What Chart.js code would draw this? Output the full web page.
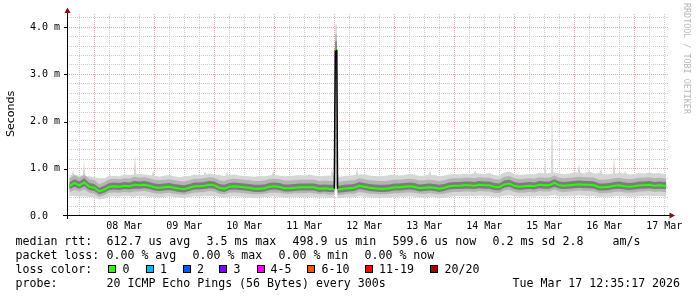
<!DOCTYPE html>
<html><head><meta charset="utf-8">
<script src="https://cdn.jsdelivr.net/npm/chart.js@4.4.1/dist/chart.umd.min.js"></script>
<style>
html,body{margin:0;padding:0;background:#fff;width:697px;height:297px;overflow:hidden;}
#wrap{position:relative;width:697px;height:297px;}
canvas{position:absolute;left:0;top:0;}
.t{position:absolute;font-family:"DejaVu Sans Mono",monospace;font-size:11.6px;line-height:14px;color:#000;white-space:pre;}
.box{position:absolute;width:6px;height:6px;border:1px solid #000;}
#ytitle{position:absolute;left:5px;top:91px;height:46px;width:12px;line-height:12px;font-family:"DejaVu Sans",sans-serif;font-size:11px;color:#000;writing-mode:vertical-rl;transform:rotate(180deg);white-space:nowrap;}
#wm{position:absolute;left:682px;top:3px;width:10px;line-height:10px;font-family:"DejaVu Sans Mono",monospace;font-size:8.4px;color:#b8b8b8;writing-mode:vertical-rl;white-space:nowrap;}
</style></head>
<body><div id="wrap"><canvas id="c" width="697" height="297"></canvas>
<div id="ytitle">Seconds</div>
<div id="wm">RRDTOOL / TOBI OETIKER</div>
<div id="legend"></div>
</div>
<script>
// time in hours relative to 08 Mar 00:00
const hours = [
 -10,-8,-6,-4,-2,0,2,4,6,8,
 10,12,14,16,18,20,22,24,26,28,
 30,32,34,36,38,40,42,44,46,48,
 50,52,54,56,58,60,62,64,66,68,
 70,72,74,76,78,80,82,84,86,88,
 90,92,94,96,
 96.4,97.0,97.3,
 98,100,102,104,106,108,
 110,112,114,116,118,120,122,124,126,128,
 130,132,134,136,138,140,142,144,146,148,
 150,152,154,156,158,160,162,164,166,168,
 170,172,174,176,178,180,182,184,186,188,
 190,192,194,196,198,200,202,204,206,208,
 210,212,214,216,218,220,222,224,226,228,
 228.8];
// median rtt (ms)
const median = [
 0.63,0.70,0.65,0.71,0.62,0.60,0.52,0.56,0.62,0.63,
 0.62,0.64,0.63,0.66,0.65,0.66,0.64,0.61,0.60,0.61,
 0.62,0.60,0.58,0.57,0.60,0.63,0.63,0.64,0.66,0.65,
 0.60,0.58,0.62,0.63,0.62,0.61,0.60,0.58,0.58,0.59,
 0.62,0.63,0.62,0.59,0.59,0.60,0.61,0.61,0.61,0.61,
 0.58,0.59,0.58,0.58,
 3.52,3.52,0.57,
 0.56,0.58,0.59,0.60,0.64,0.62,
 0.60,0.59,0.58,0.58,0.59,0.61,0.61,0.62,0.63,0.62,
 0.59,0.60,0.61,0.60,0.58,0.60,0.63,0.64,0.64,0.65,
 0.65,0.64,0.66,0.65,0.65,0.62,0.61,0.67,0.69,0.64,
 0.62,0.63,0.64,0.63,0.66,0.65,0.65,0.70,0.65,0.64,
 0.65,0.66,0.67,0.66,0.66,0.65,0.61,0.61,0.62,0.64,
 0.65,0.63,0.62,0.63,0.65,0.65,0.66,0.64,0.65,0.64,
 0.64];
// smoke: minimum ping
const pingMin = [
 0.42,0.43,0.41,0.42,0.40,0.39,0.35,0.37,0.41,0.42,
 0.41,0.43,0.42,0.41,0.43,0.42,0.41,0.40,0.39,0.41,
 0.42,0.40,0.39,0.38,0.40,0.42,0.41,0.43,0.42,0.43,
 0.40,0.39,0.41,0.42,0.41,0.40,0.39,0.38,0.39,0.40,
 0.41,0.42,0.41,0.39,0.39,0.40,0.41,0.40,0.41,0.40,
 0.39,0.40,0.38,0.39,
 0.62,0.62,0.39,
 0.37,0.39,0.40,0.40,0.42,0.41,
 0.40,0.39,0.38,0.39,0.39,0.40,0.41,0.41,0.42,0.41,
 0.39,0.40,0.41,0.40,0.38,0.39,0.41,0.42,0.43,0.42,
 0.43,0.42,0.43,0.43,0.42,0.41,0.40,0.43,0.44,0.42,
 0.41,0.42,0.42,0.41,0.43,0.42,0.43,0.44,0.42,0.42,
 0.43,0.43,0.44,0.43,0.42,0.43,0.40,0.41,0.41,0.42,
 0.43,0.42,0.41,0.41,0.42,0.43,0.43,0.42,0.43,0.42,
 0.42];
// smoke: 10th percentile
const pingP10 = [
 0.50,0.55,0.52,0.56,0.49,0.47,0.41,0.44,0.49,0.50,
 0.49,0.51,0.50,0.52,0.52,0.53,0.51,0.48,0.47,0.48,
 0.49,0.47,0.46,0.45,0.47,0.50,0.50,0.51,0.53,0.52,
 0.47,0.46,0.49,0.50,0.49,0.48,0.47,0.46,0.46,0.47,
 0.49,0.50,0.49,0.47,0.47,0.48,0.48,0.48,0.49,0.48,
 0.46,0.47,0.45,0.46,
 3.00,3.00,0.45,
 0.44,0.46,0.47,0.47,0.51,0.49,
 0.47,0.47,0.46,0.46,0.47,0.48,0.48,0.49,0.50,0.49,
 0.47,0.47,0.48,0.47,0.46,0.47,0.50,0.51,0.51,0.52,
 0.52,0.51,0.53,0.52,0.52,0.49,0.48,0.54,0.55,0.51,
 0.49,0.50,0.51,0.50,0.53,0.52,0.52,0.56,0.52,0.51,
 0.52,0.53,0.54,0.53,0.53,0.52,0.48,0.48,0.49,0.51,
 0.52,0.50,0.49,0.50,0.52,0.52,0.53,0.51,0.52,0.51,
 0.51];
// smoke: lower quartile
const pingLowQ = [
 0.56,0.62,0.58,0.63,0.55,0.53,0.46,0.49,0.55,0.56,
 0.55,0.57,0.56,0.58,0.58,0.59,0.57,0.54,0.53,0.54,
 0.55,0.53,0.51,0.50,0.53,0.56,0.56,0.57,0.59,0.58,
 0.53,0.51,0.55,0.56,0.55,0.54,0.53,0.51,0.51,0.52,
 0.55,0.56,0.55,0.52,0.52,0.53,0.54,0.54,0.54,0.54,
 0.51,0.52,0.51,0.51,
 3.30,3.30,0.50,
 0.49,0.51,0.52,0.53,0.57,0.55,
 0.53,0.52,0.51,0.51,0.52,0.54,0.54,0.55,0.56,0.55,
 0.52,0.53,0.54,0.53,0.51,0.53,0.56,0.57,0.57,0.58,
 0.58,0.57,0.59,0.58,0.58,0.55,0.54,0.60,0.62,0.57,
 0.55,0.56,0.57,0.56,0.59,0.58,0.58,0.62,0.58,0.57,
 0.58,0.59,0.60,0.59,0.59,0.58,0.54,0.54,0.55,0.57,
 0.58,0.56,0.55,0.56,0.58,0.58,0.59,0.57,0.58,0.57,
 0.57];
// smoke: upper quartile
const pingHighQ = [
 0.71,0.78,0.73,0.80,0.70,0.68,0.60,0.64,0.70,0.71,
 0.70,0.72,0.71,0.74,0.73,0.74,0.72,0.69,0.68,0.69,
 0.70,0.68,0.66,0.65,0.68,0.71,0.71,0.72,0.74,0.73,
 0.68,0.66,0.70,0.71,0.70,0.69,0.68,0.66,0.66,0.67,
 0.70,0.71,0.70,0.67,0.67,0.68,0.69,0.69,0.69,0.69,
 0.66,0.67,0.66,0.66,
 3.70,3.70,0.65,
 0.64,0.66,0.67,0.68,0.72,0.70,
 0.68,0.67,0.66,0.66,0.67,0.69,0.69,0.70,0.71,0.70,
 0.67,0.68,0.69,0.68,0.66,0.68,0.71,0.72,0.72,0.73,
 0.73,0.72,0.74,0.73,0.73,0.70,0.69,0.75,0.77,0.72,
 0.70,0.71,0.72,0.71,0.74,0.73,0.73,0.78,0.73,0.72,
 0.73,0.74,0.75,0.74,0.74,0.73,0.69,0.69,0.70,0.72,
 0.73,0.71,0.70,0.71,0.73,0.73,0.74,0.72,0.73,0.72,
 0.72];
// smoke: 90th percentile
const pingP90 = [
 0.79,0.87,0.81,0.88,0.78,0.76,0.68,0.72,0.78,0.79,
 0.78,0.80,0.79,0.83,0.81,0.82,0.80,0.77,0.76,0.77,
 0.78,0.76,0.74,0.73,0.76,0.79,0.79,0.80,0.82,0.81,
 0.76,0.74,0.78,0.79,0.78,0.77,0.76,0.74,0.74,0.75,
 0.78,0.79,0.78,0.75,0.75,0.76,0.77,0.77,0.77,0.77,
 0.74,0.75,0.74,0.74,
 3.85,3.85,0.73,
 0.72,0.74,0.75,0.76,0.80,0.78,
 0.76,0.75,0.74,0.74,0.75,0.77,0.77,0.78,0.79,0.78,
 0.75,0.76,0.77,0.76,0.74,0.76,0.79,0.80,0.80,0.81,
 0.81,0.80,0.82,0.81,0.81,0.78,0.77,0.83,0.85,0.80,
 0.78,0.79,0.80,0.79,0.82,0.81,0.81,0.86,0.81,0.80,
 0.81,0.82,0.83,0.82,0.82,0.81,0.77,0.77,0.78,0.80,
 0.81,0.79,0.78,0.79,0.81,0.81,0.82,0.80,0.81,0.80,
 0.80];
// smoke: maximum ping (own time points, so single-ping spikes stay thin)
const maxHours = [
 -10,-9.0,-8.5,-8.0,-6,-4.6,-4.1,-3.6,-2,0,2,4,6,8,10,12,14,15.8,16.3,16.8,18,20,22,23.0,23.5,24.0,
 26,28,30,32,34,36,38,40,42,43.8,44.3,44.8,46,48,50,52,52.6,53.1,53.6,54,56,58,60,62,64,66,68,70,
 71.0,71.5,72.0,74,76,78,80,82,84,86,88,90,92,94,94.6,95.1,95.6,96,96.4,97.0,97.3,98,100,102,104,
 104.6,105.1,105.6,106,108,110,112,114,116,118,120,122,124,126,128,130,132,133.8,134.3,134.8,136,
 138,140,142,144,146,148,150,151.8,152.3,152.8,154,156,158,160,162,164,166,168,170,172,174,176,178,
 180,180.3,180.8,182,182.6,183.1,183.6,184,186,188,190,192,193.4,193.9,194.4,196,198,200,202,202.7,
 203.2,204,206,207.4,207.9,208.4,210,212,212.3,212.8,214,216,218,220,222,224,226,228,228.8];
const pingMax = [
 0.88,0.87,0.97,0.87,0.86,0.86,1.18,0.85,0.84,0.82,0.80,0.80,0.86,0.85,0.84,0.88,0.87,0.88,1.29,0.88,0.89,0.88,0.87,0.86,0.97,0.86,
 0.83,0.86,0.87,0.84,0.82,0.84,0.85,0.88,0.87,0.87,0.95,0.88,0.90,0.88,0.87,0.85,0.86,0.97,0.86,0.87,0.88,0.86,0.85,0.84,0.83,0.85,0.84,0.86,
 0.87,0.97,0.87,0.86,0.84,0.85,0.86,0.87,0.86,0.88,0.86,0.84,0.85,0.86,0.86,1.04,0.86,0.86,4.05,4.05,0.85,0.83,0.85,0.86,0.87,
 0.88,1.00,0.88,0.88,0.88,0.86,0.85,0.84,0.85,0.87,0.88,0.86,0.87,0.89,0.88,0.85,0.86,0.88,0.97,0.87,0.87,
 0.84,0.86,0.88,0.89,0.88,0.90,0.89,0.90,0.97,0.90,0.90,0.89,0.91,0.87,0.86,0.92,0.94,0.89,0.87,0.88,0.89,0.88,0.92,
 0.90,1.22,0.90,0.91,0.92,2.42,0.92,0.92,0.90,0.89,0.90,0.92,0.92,1.12,0.92,0.90,0.95,0.90,0.91,1.00,
 0.90,0.88,0.89,0.90,1.26,0.90,0.91,0.90,0.97,0.90,0.88,0.89,0.91,0.90,0.92,0.90,0.91,0.89,0.89];

const dayLabels = ['08 Mar','09 Mar','10 Mar','11 Mar','12 Mar','13 Mar','14 Mar','15 Mar','16 Mar','17 Mar'];
const yTickLabels = ['0.0  ','1.0 m','2.0 m','3.0 m','4.0 m'];
const lossLabels = ['0','1','2','3','4-5','6-10','11-19','20/20'];
const lossColors = ['#26ff00','#00b8ff','#0059ff','#7e00ff','#ff00ff','#ff5500','#ff0000','#a10000'];
const lossBoxX = [108,145.5,182.5,219,256.5,307,365,430];
const lossTextX = [123,160.5,197.5,234,271,322,379.5,445];

const statRows = [
 [[16,'median rtt:'],[107,'612.7 us avg'],[207,'3.5 ms max'],[293,'498.9 us min'],[393,'599.6 us now'],[493,'0.2 ms sd'],[563,'2.8'],[613,'am/s']],
 [[16,'packet loss:'],[107,'0.00 % avg'],[193,'0.00 % max'],[279,'0.00 % min'],[365,'0.00 % now']],
 [[16,'loss color:']],
 [[16,'probe:'],[107,'20 ICMP Echo Pings (56 Bytes) every 300s'],[513,'Tue Mar 17 12:35:17 2026']]
];
const rowTops = [234, 248, 261.7, 275.7];

const leg = document.getElementById('legend');
statRows.forEach((row, r) => row.forEach(([x, s]) => {
  const d = document.createElement('div'); d.className = 't';
  d.style.left = (x - 0.5) + 'px'; d.style.top = rowTops[r] + 'px'; d.textContent = s; leg.appendChild(d);
}));
lossLabels.forEach((lab, i) => {
  const b = document.createElement('div'); b.className = 'box';
  b.style.left = lossBoxX[i] + 'px'; b.style.top = '265px'; b.style.background = lossColors[i]; leg.appendChild(b);
  const d = document.createElement('div'); d.className = 't';
  d.style.left = (lossTextX[i] - 0.5) + 'px'; d.style.top = rowTops[2] + 'px'; d.textContent = lab; leg.appendChild(d);
});

const pts = arr => hours.map((h, i) => ({x: h, y: arr[i]}));
const maxPts = maxHours.map((h, i) => ({x: h, y: pingMax[i]}));
const xGrid = []; for (let h = -6; h <= 228; h += 6) xGrid.push(h);
const yGrid = []; for (let i = 0; i <= 21; i++) yGrid.push(Math.round(i * 20) / 100);
const RED = '#eca8a8', GRAY = '#cccccc';

const axesPlugin = {
  id: 'rrdAxes',
  afterDraw(chart) {
    const c = chart.ctx, ys = chart.scales.y;
    c.save();
    c.strokeStyle = '#000'; c.lineWidth = 1;
    c.beginPath();
    c.moveTo(67.5, 11); c.lineTo(67.5, 219);
    c.moveTo(63, 215.5); c.lineTo(670, 215.5);
    for (let v = 1; v <= 4; v++) { const p = Math.round(ys.getPixelForValue(v)) + 0.5; c.moveTo(64, p); c.lineTo(67, p); }
    c.stroke();
    c.fillStyle = '#7f1010';
    c.beginPath(); c.moveTo(67.5, 7.5); c.lineTo(64.5, 13); c.lineTo(70.5, 13); c.closePath(); c.fill();
    c.beginPath(); c.moveTo(675, 215.5); c.lineTo(669.5, 212.5); c.lineTo(669.5, 218.5); c.closePath(); c.fill();
    c.restore();
  }
};

const smoke = (label, data, order, fill, bg) => ({ label, data, borderWidth: 0, pointRadius: 0, fill, backgroundColor: bg, order });

new Chart(document.getElementById('c'), {
  type: 'line',
  data: { datasets: [
    smoke('min', pts(pingMin), 20, false),
    smoke('max', maxPts, 19, { target: 0 }, '#d6d6d6'),
    smoke('p10', pts(pingP10), 18, false),
    smoke('p90', pts(pingP90), 17, { target: 2 }, '#b4b4b4'),
    smoke('q1', pts(pingLowQ), 16, false),
    smoke('q3', pts(pingHighQ), 15, { target: 4 }, '#7c7c7c'),
    { label: 'median', data: pts(median), borderColor: '#26ff00', borderWidth: 2, pointRadius: 0, fill: false, order: 1,
      segment: { borderColor: s => Math.abs(s.p1.parsed.y - s.p0.parsed.y) > 1 ? '#000' : undefined,
                 borderWidth: s => Math.abs(s.p1.parsed.y - s.p0.parsed.y) > 1 ? 1.5 : undefined } }
  ]},
  options: {
    responsive: false, animation: false, devicePixelRatio: 1,
    layout: { padding: { left: 0, right: 29, top: 14, bottom: 0 } },
    plugins: { legend: { display: false }, tooltip: { enabled: false } },
    elements: { line: { tension: 0 }, point: { radius: 0 } },
    scales: {
      x: {
        type: 'linear', min: -10.92, max: 229.48,
        afterFit: s => { s.height = 81; },
        afterBuildTicks: s => { s.ticks = xGrid.map(v => ({ value: v })); },
        grid: { color: ctx => (((ctx.tick.value % 24) + 24) % 24 === 0 ? RED : GRAY), drawTicks: false, lineWidth: 1 },
        border: { display: false, dash: [1, 1] },
        ticks: { autoSkip: false, maxRotation: 0, padding: 4, color: '#000',
          font: { family: 'DejaVu Sans Mono', size: 10 },
          callback: v => (((v % 24) + 24) % 24 === 12 ? dayLabels[(v - 12) / 24] : '') }
      },
      y: {
        min: 0, max: 4.28,
        afterFit: s => { s.width = 67; },
        afterBuildTicks: s => { s.ticks = yGrid.map(v => ({ value: v })); },
        grid: { color: ctx => { const v = ctx.tick.value; if (v === 0) return 'rgba(0,0,0,0)'; return Math.abs(v - Math.round(v)) < 1e-6 ? RED : GRAY; }, drawTicks: false, lineWidth: 1 },
        border: { display: false, dash: [1, 1] },
        ticks: { autoSkip: false, padding: 7, color: '#000', font: { family: 'DejaVu Sans Mono', size: 10 },
          callback: v => { const r = Math.round(v); return Math.abs(v - r) < 1e-6 ? yTickLabels[r] : ''; } }
      }
    }
  },
  plugins: [axesPlugin]
});
</script>
</body></html>
